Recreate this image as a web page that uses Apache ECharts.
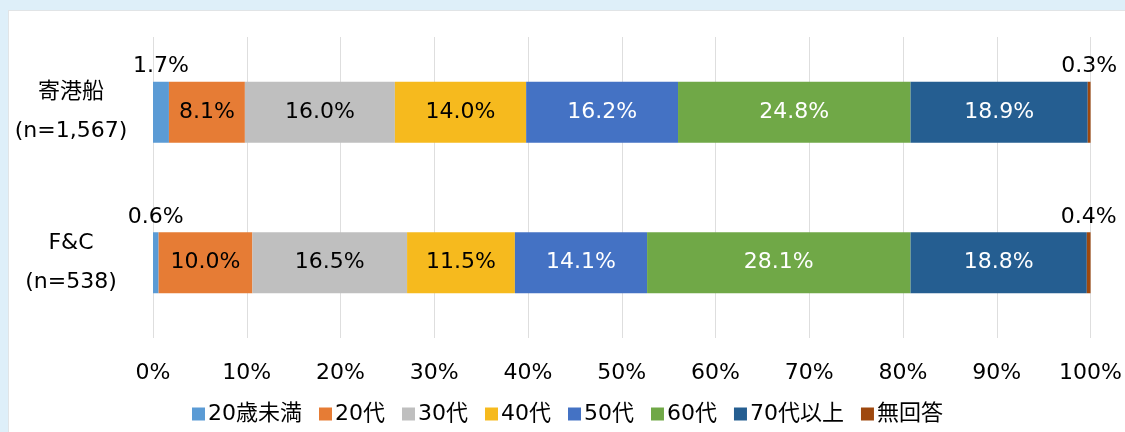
<!DOCTYPE html>
<html><head><meta charset="utf-8">
<script src="https://cdn.jsdelivr.net/npm/echarts@6/dist/echarts.min.js"></script>
<style>
html,body{margin:0;padding:0;width:1125px;height:432px;overflow:hidden;background:#DEEFF9;}
#frame{position:absolute;left:8px;top:10px;width:1117px;height:422px;background:#fff;border-top:1px solid #E1E4E6;border-left:1px solid #E1E4E6;box-sizing:border-box;}
#c{position:absolute;left:0;top:0;width:1125px;height:432px;}
</style></head>
<body>
<div id="frame"></div>
<div id="c"></div>
<script>
const categories = ['寄港船\n(n=1,567)', 'F&C\n(n=538)'];
const seriesNames = ['20歳未満', '20代', '30代', '40代', '50代', '60代', '70代以上', '無回答'];
const v_under20 = [1.7, 0.6];
const v_20s = [8.1, 10.0];
const v_30s = [16.0, 16.5];
const v_40s = [14.0, 11.5];
const v_50s = [16.2, 14.1];
const v_60s = [24.8, 28.1];
const v_70plus = [18.9, 18.8];
const v_noans = [0.3, 0.4];
const xTicks = ['0%','10%','20%','30%','40%','50%','60%','70%','80%','90%','100%'];

const values = [v_under20, v_20s, v_30s, v_40s, v_50s, v_60s, v_70plus, v_noans];
const colors = ['#5B9BD5', '#E67C35', '#BFBFBF', '#F6BA1E', '#4472C4', '#70A847', '#255E91', '#9E480E'];
const labelColors = ['#000', '#000', '#000', '#000', '#fff', '#fff', '#fff', '#000'];
const FONT = '"DejaVu Sans", "Noto Sans CJK JP", sans-serif';
const FS = 22;

const chart = echarts.init(document.getElementById('c'), null, {renderer: 'canvas'});
const series = seriesNames.map((name, i) => ({
  name: name,
  type: 'bar',
  stack: 'total',
  barWidth: 61,
  itemStyle: {color: colors[i]},
  data: values[i].map(v => {
    const small = v < 3;
    return {
      value: v,
      label: {
        show: true,
        position: small ? 'top' : 'inside',
        distance: 4,
        color: small ? '#000' : labelColors[i],
        fontSize: FS,
        fontFamily: FONT,
        formatter: p => p.value.toFixed(1) + '%'
      }
    };
  })
}));

chart.setOption({
  animation: false,
  backgroundColor: 'transparent',
  textStyle: {fontFamily: FONT},
  grid: {left: 153, right: 32, top: 37, bottom: 94, containLabel: false},
  xAxis: {
    type: 'value', min: 0, max: 100, interval: 10,
    axisLine: {show: false}, axisTick: {show: false},
    splitLine: {show: true, lineStyle: {color: '#DEDEDE', width: 1}},
    axisLabel: {
      margin: 24, fontSize: FS, color: '#000', fontFamily: FONT,
      formatter: (val) => xTicks[Math.round(val / 10)]
    }
  },
  yAxis: {
    type: 'category', inverse: true, data: categories,
    axisLine: {show: false}, axisTick: {show: false},
    axisLabel: {
      margin: 82, align: 'center', fontSize: FS, color: '#000',
      lineHeight: 39, fontFamily: FONT
    }
  },
  legend: {
    data: seriesNames,
    bottom: 2,
    left: 187,
    icon: 'rect',
    itemWidth: 13, itemHeight: 13,
    itemGap: 17,
    textStyle: {fontSize: FS, color: '#000', fontFamily: FONT, padding: [0,0,0,-2]}
  },
  series: series
});
</script>
</body></html>
